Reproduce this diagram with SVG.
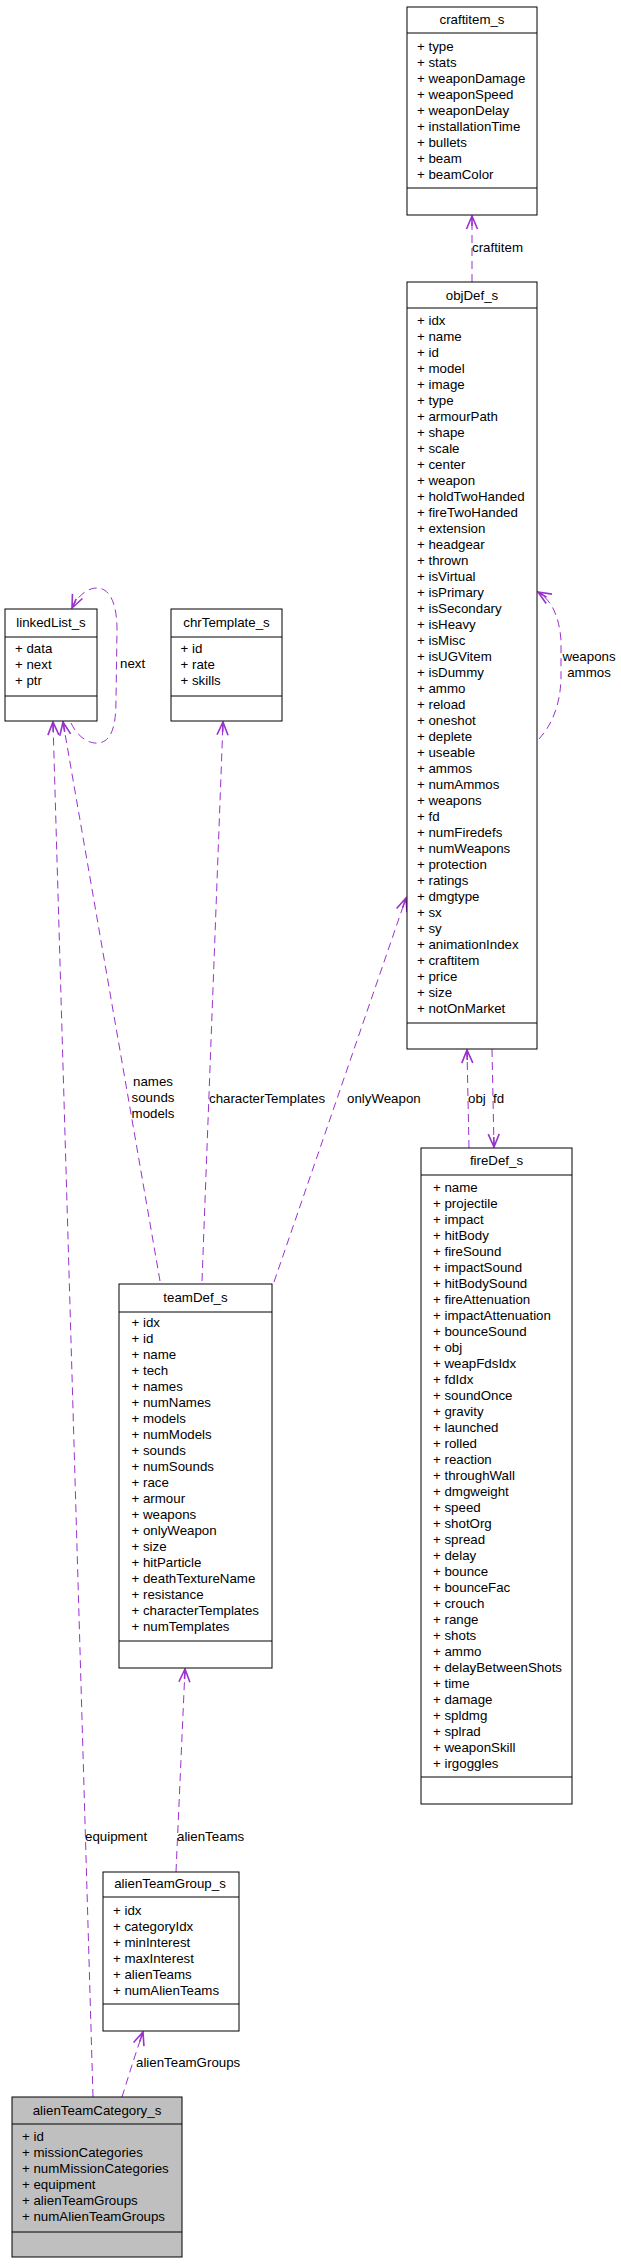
<svg xmlns="http://www.w3.org/2000/svg" width="621" height="2264" viewBox="0 0 621 2264">
<style>
.box{fill:#ffffff;stroke:#000000;stroke-width:1}
.gray{fill:#bfbfbf}
.sep{stroke:#000000;stroke-width:1}
text{font-family:"Liberation Sans",Arial,sans-serif;font-size:13.3px;fill:#000000}
.t{text-anchor:middle}
.m{text-anchor:middle}
.edge{fill:none;stroke:#9a32cd;stroke-width:1;stroke-dasharray:8,5;marker-end:url(#arr)}
</style>
<defs>
<marker id="arr" markerUnits="userSpaceOnUse" markerWidth="16" markerHeight="14" viewBox="0 0 16 14" refX="14" refY="7" orient="auto">
<path d="M1,1.5 L14,7 L1,12.5 M4,7 L14,7" fill="none" stroke="#9a32cd" stroke-width="1.6" stroke-dasharray="none"/>
</marker>
</defs>
<rect width="621" height="2264" fill="#ffffff"/>

<g id="connectors">
<path class="edge" d="M472,282 L472,216"/>
<text x="472" y="252">craftitem</text>
<path class="edge" d="M71,723 C78,738 90,744 98,743 C112,742 116,725 116,700 L117,630 C117,600 108,588 97,588 C88,588 78,595 72,608"/>
<text x="120" y="668">next</text>
<path class="edge" d="M539,739 C552,725 560,705 561,680 L561,640 C559,615 551,600 538,592"/>
<text class="m" x="589" y="661">weapons</text>
<text class="m" x="589" y="677">ammos</text>
<path class="edge" d="M93,2097 L53,722"/>
<text x="85" y="1841">equipment</text>
<path class="edge" d="M160,1281 L63,722"/>
<text class="m" x="153" y="1086">names</text>
<text class="m" x="153" y="1102">sounds</text>
<text class="m" x="153" y="1118">models</text>
<path class="edge" d="M202,1281 L223,722"/>
<text x="209" y="1103">characterTemplates</text>
<path class="edge" d="M274,1282 L406,898"/>
<text x="347" y="1103">onlyWeapon</text>
<path class="edge" d="M469,1148 L467,1050"/>
<text x="468" y="1103">obj</text>
<path class="edge" d="M492,1049 L494,1147"/>
<text x="493" y="1103">fd</text>
<path class="edge" d="M176,1872 L185,1669"/>
<text x="177" y="1841">alienTeams</text>
<path class="edge" d="M122,2097 C128,2078 134,2058 143,2032"/>
<text x="136" y="2067">alienTeamGroups</text>
</g>

<g id="craftitem_s">
<rect class="box" x="407" y="7" width="130" height="208"/>
<line class="sep" x1="407" y1="33" x2="537" y2="33"/>
<line class="sep" x1="407" y1="188" x2="537" y2="188"/>
<text class="t" x="472" y="24">craftitem_s</text>
<text x="417" y="51">+ type</text>
<text x="417" y="67">+ stats</text>
<text x="417" y="83">+ weaponDamage</text>
<text x="417" y="99">+ weaponSpeed</text>
<text x="417" y="115">+ weaponDelay</text>
<text x="417" y="131">+ installationTime</text>
<text x="417" y="147">+ bullets</text>
<text x="417" y="163">+ beam</text>
<text x="417" y="179">+ beamColor</text>
</g>

<g id="objDef_s">
<rect class="box" x="407" y="282" width="130" height="767"/>
<line class="sep" x1="407" y1="308" x2="537" y2="308"/>
<line class="sep" x1="407" y1="1023" x2="537" y2="1023"/>
<text class="t" x="472" y="300">objDef_s</text>
<text x="417" y="325">+ idx</text>
<text x="417" y="341">+ name</text>
<text x="417" y="357">+ id</text>
<text x="417" y="373">+ model</text>
<text x="417" y="389">+ image</text>
<text x="417" y="405">+ type</text>
<text x="417" y="421">+ armourPath</text>
<text x="417" y="437">+ shape</text>
<text x="417" y="453">+ scale</text>
<text x="417" y="469">+ center</text>
<text x="417" y="485">+ weapon</text>
<text x="417" y="501">+ holdTwoHanded</text>
<text x="417" y="517">+ fireTwoHanded</text>
<text x="417" y="533">+ extension</text>
<text x="417" y="549">+ headgear</text>
<text x="417" y="565">+ thrown</text>
<text x="417" y="581">+ isVirtual</text>
<text x="417" y="597">+ isPrimary</text>
<text x="417" y="613">+ isSecondary</text>
<text x="417" y="629">+ isHeavy</text>
<text x="417" y="645">+ isMisc</text>
<text x="417" y="661">+ isUGVitem</text>
<text x="417" y="677">+ isDummy</text>
<text x="417" y="693">+ ammo</text>
<text x="417" y="709">+ reload</text>
<text x="417" y="725">+ oneshot</text>
<text x="417" y="741">+ deplete</text>
<text x="417" y="757">+ useable</text>
<text x="417" y="773">+ ammos</text>
<text x="417" y="789">+ numAmmos</text>
<text x="417" y="805">+ weapons</text>
<text x="417" y="821">+ fd</text>
<text x="417" y="837">+ numFiredefs</text>
<text x="417" y="853">+ numWeapons</text>
<text x="417" y="869">+ protection</text>
<text x="417" y="885">+ ratings</text>
<text x="417" y="901">+ dmgtype</text>
<text x="417" y="917">+ sx</text>
<text x="417" y="933">+ sy</text>
<text x="417" y="949">+ animationIndex</text>
<text x="417" y="965">+ craftitem</text>
<text x="417" y="981">+ price</text>
<text x="417" y="997">+ size</text>
<text x="417" y="1013">+ notOnMarket</text>
</g>

<g id="linkedList_s">
<rect class="box" x="5" y="609" width="92" height="112"/>
<line class="sep" x1="5" y1="637" x2="97" y2="637"/>
<line class="sep" x1="5" y1="696" x2="97" y2="696"/>
<text class="t" x="51" y="627">linkedList_s</text>
<text x="15" y="653">+ data</text>
<text x="15" y="669">+ next</text>
<text x="15" y="685">+ ptr</text>
</g>

<g id="chrTemplate_s">
<rect class="box" x="171" y="609" width="111" height="112"/>
<line class="sep" x1="171" y1="637" x2="282" y2="637"/>
<line class="sep" x1="171" y1="696" x2="282" y2="696"/>
<text class="t" x="226.5" y="627">chrTemplate_s</text>
<text x="180.5" y="653">+ id</text>
<text x="180.5" y="669">+ rate</text>
<text x="180.5" y="685">+ skills</text>
</g>

<g id="teamDef_s">
<rect class="box" x="119" y="1284" width="153" height="384"/>
<line class="sep" x1="119" y1="1312" x2="272" y2="1312"/>
<line class="sep" x1="119" y1="1641" x2="272" y2="1641"/>
<text class="t" x="195.5" y="1302">teamDef_s</text>
<text x="131.5" y="1327">+ idx</text>
<text x="131.5" y="1343">+ id</text>
<text x="131.5" y="1359">+ name</text>
<text x="131.5" y="1375">+ tech</text>
<text x="131.5" y="1391">+ names</text>
<text x="131.5" y="1407">+ numNames</text>
<text x="131.5" y="1423">+ models</text>
<text x="131.5" y="1439">+ numModels</text>
<text x="131.5" y="1455">+ sounds</text>
<text x="131.5" y="1471">+ numSounds</text>
<text x="131.5" y="1487">+ race</text>
<text x="131.5" y="1503">+ armour</text>
<text x="131.5" y="1519">+ weapons</text>
<text x="131.5" y="1535">+ onlyWeapon</text>
<text x="131.5" y="1551">+ size</text>
<text x="131.5" y="1567">+ hitParticle</text>
<text x="131.5" y="1583">+ deathTextureName</text>
<text x="131.5" y="1599">+ resistance</text>
<text x="131.5" y="1615">+ characterTemplates</text>
<text x="131.5" y="1631">+ numTemplates</text>
</g>

<g id="fireDef_s">
<rect class="box" x="421" y="1148" width="151" height="656"/>
<line class="sep" x1="421" y1="1175" x2="572" y2="1175"/>
<line class="sep" x1="421" y1="1777" x2="572" y2="1777"/>
<text class="t" x="496.5" y="1165">fireDef_s</text>
<text x="433" y="1192">+ name</text>
<text x="433" y="1208">+ projectile</text>
<text x="433" y="1224">+ impact</text>
<text x="433" y="1240">+ hitBody</text>
<text x="433" y="1256">+ fireSound</text>
<text x="433" y="1272">+ impactSound</text>
<text x="433" y="1288">+ hitBodySound</text>
<text x="433" y="1304">+ fireAttenuation</text>
<text x="433" y="1320">+ impactAttenuation</text>
<text x="433" y="1336">+ bounceSound</text>
<text x="433" y="1352">+ obj</text>
<text x="433" y="1368">+ weapFdsIdx</text>
<text x="433" y="1384">+ fdIdx</text>
<text x="433" y="1400">+ soundOnce</text>
<text x="433" y="1416">+ gravity</text>
<text x="433" y="1432">+ launched</text>
<text x="433" y="1448">+ rolled</text>
<text x="433" y="1464">+ reaction</text>
<text x="433" y="1480">+ throughWall</text>
<text x="433" y="1496">+ dmgweight</text>
<text x="433" y="1512">+ speed</text>
<text x="433" y="1528">+ shotOrg</text>
<text x="433" y="1544">+ spread</text>
<text x="433" y="1560">+ delay</text>
<text x="433" y="1576">+ bounce</text>
<text x="433" y="1592">+ bounceFac</text>
<text x="433" y="1608">+ crouch</text>
<text x="433" y="1624">+ range</text>
<text x="433" y="1640">+ shots</text>
<text x="433" y="1656">+ ammo</text>
<text x="433" y="1672">+ delayBetweenShots</text>
<text x="433" y="1688">+ time</text>
<text x="433" y="1704">+ damage</text>
<text x="433" y="1720">+ spldmg</text>
<text x="433" y="1736">+ splrad</text>
<text x="433" y="1752">+ weaponSkill</text>
<text x="433" y="1768">+ irgoggles</text>
</g>

<g id="alienTeamGroup_s">
<rect class="box" x="103" y="1872" width="136" height="159"/>
<line class="sep" x1="103" y1="1897" x2="239" y2="1897"/>
<line class="sep" x1="103" y1="2004" x2="239" y2="2004"/>
<text class="t" x="170" y="1888">alienTeamGroup_s</text>
<text x="113" y="1915">+ idx</text>
<text x="113" y="1931">+ categoryIdx</text>
<text x="113" y="1947">+ minInterest</text>
<text x="113" y="1963">+ maxInterest</text>
<text x="113" y="1979">+ alienTeams</text>
<text x="113" y="1995">+ numAlienTeams</text>
</g>

<g id="alienTeamCategory_s">
<rect class="box gray" x="12" y="2097" width="170" height="160"/>
<line class="sep" x1="12" y1="2124" x2="182" y2="2124"/>
<line class="sep" x1="12" y1="2232" x2="182" y2="2232"/>
<text class="t" x="97" y="2115">alienTeamCategory_s</text>
<text x="22" y="2141">+ id</text>
<text x="22" y="2157">+ missionCategories</text>
<text x="22" y="2173">+ numMissionCategories</text>
<text x="22" y="2189">+ equipment</text>
<text x="22" y="2205">+ alienTeamGroups</text>
<text x="22" y="2221">+ numAlienTeamGroups</text>
</g>
</svg>
